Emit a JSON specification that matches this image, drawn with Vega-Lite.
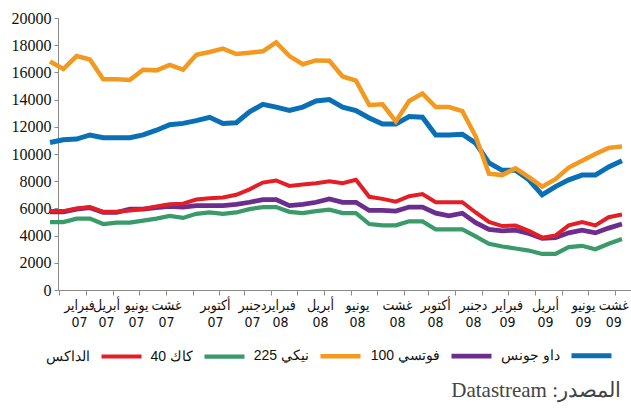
{
  "$schema": "https://vega.github.io/schema/vega-lite/v6.json",
  "width": 573,
  "height": 272,
  "autosize": {"type": "none"},
  "padding": {"left": 58, "top": 18, "right": 0, "bottom": 120},
  "background": "white",
  "config": {
    "view": {"stroke": null},
    "font": "Liberation Sans",
    "axis": {"labelFont": "Liberation Sans Narrow", "labelColor": "#111", "domainColor": "#8a8a8a", "tickColor": "#8a8a8a", "grid": false}
  },
  "title": {"text": "Datastream :المصدر", "orient": "bottom", "anchor": "end", "frame": "group", "offset": 14, "dx": -10, "font": "Liberation Serif", "fontSize": 21, "fontWeight": "normal", "color": "#444"},
  "data": {
    "values": [
      {"i": 0, "fvt": 5750, "dj": 10850, "nk": 16800, "cac": 5000, "dax": 5800},
      {"i": 1, "fvt": 5750, "dj": 11050, "nk": 16250, "cac": 5000, "dax": 5800},
      {"i": 2, "fvt": 5950, "dj": 11100, "nk": 17200, "cac": 5250, "dax": 6000},
      {"i": 3, "fvt": 6050, "dj": 11400, "nk": 16950, "cac": 5250, "dax": 6100},
      {"i": 4, "fvt": 5700, "dj": 11200, "nk": 15500, "cac": 4850, "dax": 5750},
      {"i": 5, "fvt": 5700, "dj": 11200, "nk": 15500, "cac": 4950, "dax": 5750},
      {"i": 6, "fvt": 5950, "dj": 11200, "nk": 15450, "cac": 4950, "dax": 5850},
      {"i": 7, "fvt": 5950, "dj": 11400, "nk": 16200, "cac": 5100, "dax": 5950},
      {"i": 8, "fvt": 6050, "dj": 11750, "nk": 16150, "cac": 5250, "dax": 6150},
      {"i": 9, "fvt": 6150, "dj": 12150, "nk": 16550, "cac": 5450, "dax": 6300},
      {"i": 10, "fvt": 6100, "dj": 12250, "nk": 16200, "cac": 5300, "dax": 6350},
      {"i": 11, "fvt": 6200, "dj": 12450, "nk": 17300, "cac": 5600, "dax": 6650},
      {"i": 12, "fvt": 6200, "dj": 12700, "nk": 17500, "cac": 5700, "dax": 6750},
      {"i": 13, "fvt": 6200, "dj": 12250, "nk": 17750, "cac": 5600, "dax": 6800},
      {"i": 14, "fvt": 6300, "dj": 12300, "nk": 17350, "cac": 5700, "dax": 7000},
      {"i": 15, "fvt": 6450, "dj": 13100, "nk": 17450, "cac": 5950, "dax": 7400},
      {"i": 16, "fvt": 6650, "dj": 13650, "nk": 17550, "cac": 6100, "dax": 7900},
      {"i": 17, "fvt": 6650, "dj": 13450, "nk": 18200, "cac": 6100, "dax": 8050},
      {"i": 18, "fvt": 6200, "dj": 13200, "nk": 17200, "cac": 5750, "dax": 7650},
      {"i": 19, "fvt": 6300, "dj": 13450, "nk": 16600, "cac": 5650, "dax": 7750},
      {"i": 20, "fvt": 6450, "dj": 13900, "nk": 16880, "cac": 5800, "dax": 7850},
      {"i": 21, "fvt": 6700, "dj": 14000, "nk": 16850, "cac": 5900, "dax": 8000},
      {"i": 22, "fvt": 6450, "dj": 13450, "nk": 15700, "cac": 5650, "dax": 7850},
      {"i": 23, "fvt": 6450, "dj": 13200, "nk": 15400, "cac": 5650, "dax": 8100},
      {"i": 24, "fvt": 5850, "dj": 12650, "nk": 13600, "cac": 4850, "dax": 6850},
      {"i": 25, "fvt": 5850, "dj": 12200, "nk": 13650, "cac": 4750, "dax": 6700},
      {"i": 26, "fvt": 5800, "dj": 12200, "nk": 12400, "cac": 4750, "dax": 6500},
      {"i": 27, "fvt": 6100, "dj": 12750, "nk": 13900, "cac": 5050, "dax": 6900},
      {"i": 28, "fvt": 6100, "dj": 12700, "nk": 14450, "cac": 5050, "dax": 7050},
      {"i": 29, "fvt": 5650, "dj": 11400, "nk": 13450, "cac": 4450, "dax": 6450},
      {"i": 30, "fvt": 5450, "dj": 11400, "nk": 13450, "cac": 4450, "dax": 6450},
      {"i": 31, "fvt": 5650, "dj": 11450, "nk": 13150, "cac": 4450, "dax": 6450},
      {"i": 32, "fvt": 4950, "dj": 10800, "nk": 11300, "cac": 3950, "dax": 5700},
      {"i": 33, "fvt": 4450, "dj": 9350, "nk": 8550, "cac": 3400, "dax": 5000},
      {"i": 34, "fvt": 4350, "dj": 8800, "nk": 8450, "cac": 3200, "dax": 4700},
      {"i": 35, "fvt": 4400, "dj": 8800, "nk": 8950, "cac": 3050, "dax": 4750},
      {"i": 36, "fvt": 4150, "dj": 8100, "nk": 8300, "cac": 2900, "dax": 4350},
      {"i": 37, "fvt": 3800, "dj": 7000, "nk": 7600, "cac": 2650, "dax": 3850},
      {"i": 38, "fvt": 3850, "dj": 7600, "nk": 8150, "cac": 2650, "dax": 4000},
      {"i": 39, "fvt": 4200, "dj": 8100, "nk": 9000, "cac": 3150, "dax": 4750},
      {"i": 40, "fvt": 4400, "dj": 8450, "nk": 9500, "cac": 3250, "dax": 5000},
      {"i": 41, "fvt": 4200, "dj": 8450, "nk": 10000, "cac": 3000, "dax": 4750},
      {"i": 42, "fvt": 4550, "dj": 9050, "nk": 10450, "cac": 3400, "dax": 5350},
      {"i": 43, "fvt": 4850, "dj": 9500, "nk": 10550, "cac": 3750, "dax": 5550}
    ]
  },
  "transform": [
    {"fold": ["fvt", "dj", "nk", "cac", "dax"], "as": ["k", "v"]},
    {"lookup": "k", "from": {"data": {"values": [
      {"k": "fvt", "s": "فوتسي 100"},
      {"k": "dj", "s": "داو جونس"},
      {"k": "nk", "s": "نيكي 225"},
      {"k": "cac", "s": "كاك 40"},
      {"k": "dax", "s": "الداكس"}
    ]}, "key": "k", "fields": ["s"]}}
  ],
  "mark": {"type": "line", "strokeJoin": "miter", "strokeCap": "butt"},
  "encoding": {
    "x": {
      "field": "i", "type": "quantitative", "title": null,
      "scale": {"domain": [0.6, 43.68], "nice": false, "zero": false},
      "axis": {
        "values": [0.7, 2.71, 4.71, 6.71, 8.72, 10.73, 12.73, 14.59, 16.59, 18.59, 20.6, 22.6, 24.61, 26.61, 28.44, 30.45, 32.46, 34.46, 36.47, 38.47, 40.48, 42.48, 2.18, 4.21, 6.47, 8.72001, 12.4, 15.19, 17.29, 20.3, 23.08, 26.09, 28.95, 31.8, 34.36, 37.22, 40.08, 42.35],
        "tickSize": 5,
        "tickOpacity": {"condition": {"test": "indexof([0.7, 2.71, 4.71, 6.71, 8.72, 10.73, 12.73, 14.59, 16.59, 18.59, 20.6, 22.6, 24.61, 26.61, 28.44, 30.45, 32.46, 34.46, 36.47, 38.47, 40.48, 42.48], datum.value) >= 0", "value": 1}, "value": 0},
        "labelFont": "DejaVu Sans Condensed, Liberation Sans",
        "labelFontSize": 14, "labelPadding": 3, "labelLineHeight": 17, "labelAlign": "center", "labelOverlap": false, "labelBound": false, "labelFlush": false,
        "labelExpr": "indexof([2.18, 4.21, 6.47, 8.72001, 12.4, 15.19, 17.29, 20.3, 23.08, 26.09, 28.95, 31.8, 34.36, 37.22, 40.08, 42.35], datum.value) < 0 ? '' : [['فبراير','07'],['أبريل','07'],['يونيو','07'],['غشت','07'],['أكتوبر','07'],['دجنبر','07'],['فبراير','08'],['أبريل','08'],['يونيو','08'],['غشت','08'],['أكتوبر','08'],['دجنبر','08'],['فبراير','09'],['أبريل','09'],['يونيو','09'],['غشت','09']][indexof([2.18, 4.21, 6.47, 8.72001, 12.4, 15.19, 17.29, 20.3, 23.08, 26.09, 28.95, 31.8, 34.36, 37.22, 40.08, 42.35], datum.value)]"
      }
    },
    "y": {
      "field": "v", "type": "quantitative", "title": null,
      "scale": {"domain": [0, 20000], "nice": false},
      "axis": {"values": [0, 2000, 4000, 6000, 8000, 10000, 12000, 14000, 16000, 18000, 20000], "format": "d", "tickSize": 4, "labelPadding": 3, "labelFontSize": 16}
    },
    "color": {
      "field": "s", "type": "nominal",
      "scale": {"domain": ["الداكس", "كاك 40", "نيكي 225", "فوتسي 100", "داو جونس"], "range": ["#E31E24", "#3A9A69", "#F4991F", "#6B2D8E", "#0A70B5"]},
      "legend": {"orient": "none", "legendX": 41, "legendY": 315, "direction": "horizontal", "columns": 5, "title": null, "symbolType": "stroke", "symbolSize": 1600, "symbolStrokeWidth": 5, "labelFontSize": 14, "labelFont": "Liberation Sans", "labelColor": "#111", "labelAlign": "right", "labelOffset": -54, "columnPadding": 0}
    },
    "strokeWidth": {
      "field": "s", "type": "nominal",
      "scale": {"domain": ["الداكس", "كاك 40", "نيكي 225", "فوتسي 100", "داو جونس"], "range": [4, 5, 5.5, 3.5, 4]},
      "legend": null
    }
  }
}
